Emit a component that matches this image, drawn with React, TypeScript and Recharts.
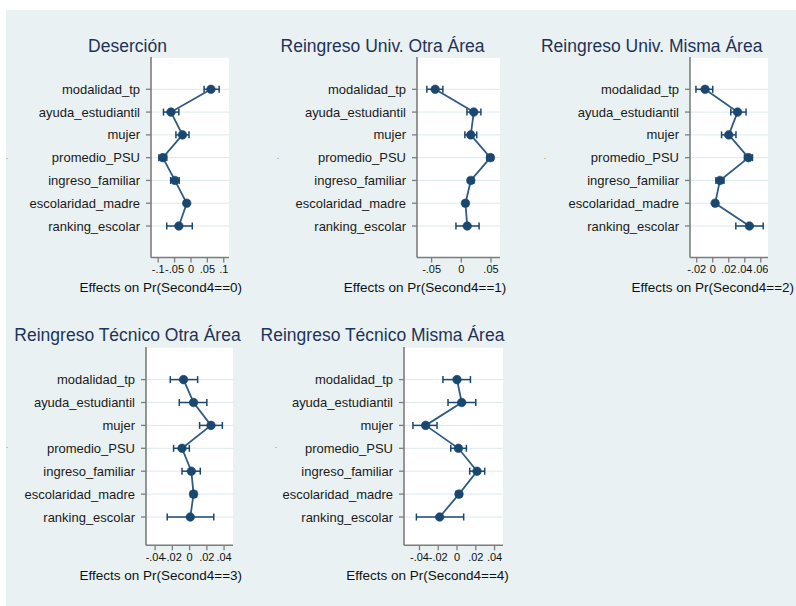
import React from 'react';
import { ComposedChart, Line, XAxis, YAxis, CartesianGrid, ErrorBar } from 'recharts';

const categories = [
  'modalidad_tp',
  'ayuda_estudiantil',
  'mujer',
  'promedio_PSU',
  'ingreso_familiar',
  'escolaridad_madre',
  'ranking_escolar',
];

const panelTitles = [
  'Deserción',
  'Reingreso Univ. Otra Área',
  'Reingreso Univ. Misma Área',
  'Reingreso Técnico Otra Área',
  'Reingreso Técnico Misma Área',
];

const xAxisTitles = [
  'Effects on Pr(Second4==0)',
  'Effects on Pr(Second4==1)',
  'Effects on Pr(Second4==2)',
  'Effects on Pr(Second4==3)',
  'Effects on Pr(Second4==4)',
];

// Panel 0: Deserción
const effects0 = [0.061, -0.061, -0.026, -0.086, -0.049, -0.013, -0.037];
const lower0 = [0.040, -0.084, -0.046, -0.098, -0.062, -0.018, -0.074];
const upper0 = [0.086, -0.037, -0.006, -0.074, -0.036, -0.008, 0.004];
const ticks0 = [-0.1, -0.05, 0, 0.05, 0.1];
const domain0: [number, number] = [-0.122, 0.116];

// Panel 1: Reingreso Univ. Otra Área
const effects1 = [-0.044, 0.021, 0.016, 0.049, 0.016, 0.007, 0.010];
const lower1 = [-0.058, 0.0095, 0.006, 0.043, 0.012, 0.003, -0.009];
const upper1 = [-0.031, 0.033, 0.026, 0.054, 0.021, 0.011, 0.030];
const ticks1 = [-0.05, 0, 0.05];
const domain1: [number, number] = [-0.0746, 0.0657];

// Panel 2: Reingreso Univ. Misma Área
const effects2 = [-0.0096, 0.031, 0.020, 0.0446, 0.009, 0.003, 0.0458];
const lower2 = [-0.021, 0.0225, 0.011, 0.0396, 0.004, 0.0, 0.0288];
const upper2 = [0.0, 0.0416, 0.029, 0.0496, 0.014, 0.006, 0.063];
const ticks2 = [-0.02, 0, 0.02, 0.04, 0.06];
const domain2: [number, number] = [-0.0284, 0.069];

// Panel 3: Reingreso Técnico Otra Área
const effects3 = [-0.007, 0.0046, 0.0248, -0.0088, 0.002, 0.0046, 0.0008];
const lower3 = [-0.0224, -0.012, 0.0116, -0.0186, -0.0088, 0.001, -0.026];
const upper3 = [0.0093, 0.020, 0.038, -0.0003, 0.0124, 0.008, 0.028];
const ticks3 = [-0.04, -0.02, 0, 0.02, 0.04];
const domain3: [number, number] = [-0.0506, 0.0507];

// Panel 4: Reingreso Técnico Misma Área
const effects4 = [0.0, 0.005, -0.0334, 0.0015, 0.0213, 0.0021, -0.0185];
const lower4 = [-0.015, -0.0096, -0.047, -0.0067, 0.0135, -0.001, -0.0433];
const upper4 = [0.0143, 0.020, -0.0213, 0.010, 0.0295, 0.005, 0.0071];
const ticks4 = [-0.04, -0.02, 0, 0.02, 0.04];
const domain4: [number, number] = [-0.0565, 0.049];

const FONT = '"Liberation Sans", Arial, Helvetica, sans-serif';
const NAVY = '#1a476f';
const LINE = '#2f5b85';
const AXIS = '#7d7d7d';
const GRID = '#dde9ed';
const BG = '#e9f1f3';
const TITLE = '#1f3357';

const fmt = (v: number) => {
  if (Math.abs(v) < 1e-9) return '0';
  const s = String(Math.round(v * 1000) / 1000);
  return s.replace(/^(-?)0\./, '$1.');
};

type PanelLayout = {
  plotLeft: number;
  plotRight: number;
  plotTop: number;
  plotBottom: number;
  padTop: number;
  padBottom: number;
  titleX: number;
  titleY: number;
  xTitleX: number;
  xTitleY: number;
  dotX: number;
  dotY: number;
};

const layouts: PanelLayout[] = [
  { plotLeft: 151, plotRight: 229, plotTop: 57, plotBottom: 257.5, padTop: 20.9, padBottom: 20.1, titleX: 127.5, titleY: 52, xTitleX: 160.8, xTitleY: 291.5, dotX: 7, dotY: 158 },
  { plotLeft: 416.7, plotRight: 500, plotTop: 57, plotBottom: 257.5, padTop: 20.9, padBottom: 20.1, titleX: 382.5, titleY: 52, xTitleX: 425, xTitleY: 291.5, dotX: 278, dotY: 158 },
  { plotLeft: 690, plotRight: 768, plotTop: 57, plotBottom: 257.5, padTop: 20.9, padBottom: 20.1, titleX: 651.7, titleY: 52, xTitleX: 712.8, xTitleY: 291.5, dotX: 545, dotY: 158 },
  { plotLeft: 145.7, plotRight: 233, plotTop: 346.7, plotBottom: 545, padTop: 21.15, padBottom: 16.85, titleX: 127.5, titleY: 341, xTitleX: 160.8, xTitleY: 580, dotX: 7, dotY: 447 },
  { plotLeft: 404.3, plotRight: 503.3, plotTop: 346.7, plotBottom: 545, padTop: 21.15, padBottom: 16.85, titleX: 382.5, titleY: 341, xTitleX: 427.5, xTitleY: 580, dotX: 276, dotY: 447 },
];

const panelData = [
  { eff: effects0, lo: lower0, hi: upper0, ticks: ticks0, domain: domain0 },
  { eff: effects1, lo: lower1, hi: upper1, ticks: ticks1, domain: domain1 },
  { eff: effects2, lo: lower2, hi: upper2, ticks: ticks2, domain: domain2 },
  { eff: effects3, lo: lower3, hi: upper3, ticks: ticks3, domain: domain3 },
  { eff: effects4, lo: lower4, hi: upper4, ticks: ticks4, domain: domain4 },
];

const Y_AXIS_W = 140;
const X_AXIS_H = 30;

function Panel({ idx }: { idx: number }) {
  const L = layouts[idx];
  const P = panelData[idx];
  const rows = categories.map((name, i) => ({
    name,
    value: P.eff[i],
    err: [P.eff[i] - P.lo[i], P.hi[i] - P.eff[i]],
  }));
  const width = Y_AXIS_W + (L.plotRight - L.plotLeft);
  const height = (L.plotBottom - L.plotTop) + X_AXIS_H;
  return (
    <div style={{ position: 'absolute', left: L.plotLeft - Y_AXIS_W, top: L.plotTop, width, height }}>
      <ComposedChart
        layout="vertical"
        width={width}
        height={height}
        data={rows}
        margin={{ top: 0, right: 0, bottom: 0, left: 0 }}
        style={{ fontFamily: FONT }}
      >
        <CartesianGrid horizontal vertical={false} stroke={GRID} strokeWidth={1} fill="#ffffff" fillOpacity={1} />
        <XAxis
          type="number"
          dataKey="value"
          domain={P.domain}
          allowDataOverflow
          ticks={P.ticks}
          interval={0}
          tickFormatter={fmt}
          height={X_AXIS_H}
          tickSize={5}
          tickMargin={3}
          axisLine={{ stroke: AXIS, strokeWidth: 1.6 }}
          tickLine={{ stroke: AXIS, strokeWidth: 1.3 }}
          tick={{ fontSize: 11, fill: '#111', fontFamily: FONT }}
        />
        <YAxis
          type="category"
          dataKey="name"
          scale="band"
          width={Y_AXIS_W}
          interval={0}
          padding={{ top: L.padTop, bottom: L.padBottom }}
          tickSize={5}
          tickMargin={6}
          axisLine={{ stroke: AXIS, strokeWidth: 1.6 }}
          tickLine={{ stroke: AXIS, strokeWidth: 1.3 }}
          tick={{ fontSize: 13, fill: '#1a1a1a', fontFamily: FONT }}
        />
        <Line
          dataKey="value"
          stroke={LINE}
          strokeWidth={1.8}
          isAnimationActive={false}
          dot={{ r: 4.3, fill: NAVY, stroke: NAVY, strokeWidth: 0.6 }}
          activeDot={false}
        >
          <ErrorBar dataKey="err" direction="x" width={3.5} stroke={NAVY} strokeWidth={1.5} isAnimationActive={false} />
        </Line>
      </ComposedChart>
    </div>
  );
}

export default function App() {
  return (
    <div style={{ position: 'absolute', left: 0, top: 0, width: 796, height: 606, background: '#ffffff', overflow: 'hidden', fontFamily: FONT }}>
      <div style={{ position: 'absolute', left: 6, top: 10, width: 790, height: 596, background: BG }} />
      {layouts.map((_, i) => (
        <Panel key={i} idx={i} />
      ))}
      <svg width={796} height={606} style={{ position: 'absolute', left: 0, top: 0, pointerEvents: 'none' }}>
        {layouts.map((L, i) => (
          <g key={i}>
            <text x={L.titleX} y={L.titleY} textAnchor="middle" fontSize={17.5} fill={TITLE} fontFamily={FONT}>
              {panelTitles[i]}
            </text>
            <text x={L.xTitleX} y={L.xTitleY} textAnchor="middle" fontSize={13.5} fill="#111" fontFamily={FONT}>
              {xAxisTitles[i]}
            </text>
            <text x={L.dotX} y={L.dotY + 3} textAnchor="middle" fontSize={9} fill="#8a8a8a" fontFamily={FONT}>
              ·
            </text>
          </g>
        ))}
      </svg>
    </div>
  );
}
